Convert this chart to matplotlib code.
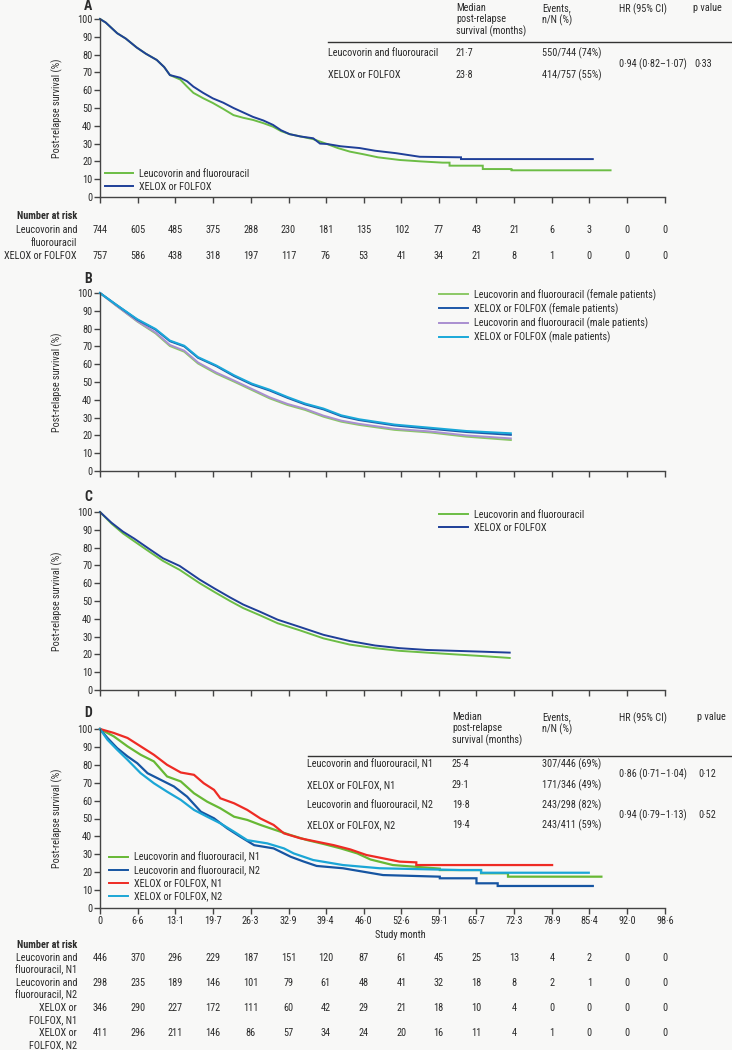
import matplotlib
matplotlib.use("Agg")
import matplotlib.pyplot as plt
from matplotlib.lines import Line2D
from matplotlib.transforms import blended_transform_factory

plt.rcParams['font.family'] = ['Roboto Condensed', 'Roboto', 'DejaVu Sans']
plt.rcParams['font.size'] = 7.4

W, H = 732, 1050
BG = "#f8f8f7"
TXT = "#2b2b2b"
FS = 7.4

# ── data ─────────────────────────────────────────────────────────────────
tick_months = [0, 6.6, 13.1, 19.7, 26.3, 32.9, 39.4, 46.0, 52.6, 59.1, 65.7, 72.3, 78.9, 85.4, 92.0, 98.6]
tick_labels = ["0", "6·6", "13·1", "19·7", "26·3", "32·9", "39·4", "46·0", "52·6", "59·1",
               "65·7", "72·3", "78·9", "85·4", "92·0", "98·6"]

# Panel A
a_lf_t = [0, 1, 2, 3, 4.5, 6.4, 8, 9.9, 11.2, 12.2, 14.0, 15.2, 16.3, 18, 19.7, 21.5, 23.3, 25, 26.7,
          28.5, 30.2, 31.6, 33.1, 35, 37.2, 39.6, 41.5, 43.6, 46, 48.5, 52.3, 56, 59.8, 61.0, 61.0,
          66.8, 66.8, 71.8, 71.8, 89.1]
a_lf_s = [100, 98, 95, 92, 89, 84, 80.5, 77, 73, 68.5, 66, 62, 58.5, 55.5, 52.8, 49.5, 46, 44.5, 43.3,
          41.5, 39.5, 37, 35.3, 34, 32.5, 29.8, 27.5, 25.5, 24, 22.3, 20.8, 20, 19.3, 19.3, 17.6,
          17.6, 15.7, 15.7, 15.0, 15.0]
a_xf_t = [0, 1, 2, 3, 4.5, 6.4, 8, 9.9, 11.2, 12.2, 14.0, 15.2, 16.3, 18, 19.7, 21.5, 23.3, 25, 26.7,
          28.5, 30.2, 31.6, 33.1, 35, 37.2, 38.4, 39.6, 42, 45.3, 48, 51.7, 55.8, 63, 63, 86]
a_xf_s = [100, 98, 95, 92, 89, 84, 80.5, 77, 73, 68.5, 67, 65, 62, 58.5, 55.4, 53, 50, 47.5, 45,
          43, 40.5, 37.5, 35.3, 34, 33, 30, 29.8, 28.5, 27.5, 26, 24.6, 22.6, 22.3, 21.3, 21.3]
a_risk_lf = [744, 605, 485, 375, 288, 230, 181, 135, 102, 77, 43, 21, 6, 3, 0, 0]
a_risk_xf = [757, 586, 438, 318, 197, 117, 76, 53, 41, 34, 21, 8, 1, 0, 0, 0]
a_groups = ["Leucovorin and fluorouracil", "XELOX or FOLFOX"]
a_median = ["21·7", "23·8"]
a_events = ["550/744 (74%)", "414/757 (55%)"]
a_hr = ["0·94 (0·82–1·07)"]
a_p = ["0·33"]

# Panel B
b_t = [0, 2.8, 6.5, 9.7, 12.2, 14.7, 17.1, 20.3, 23.4, 26.5, 29.6, 32.7, 35.8, 39.0, 42.1, 45.2,
       51.4, 57.7, 63.9, 71.7]
b_lf_f = [100, 93, 84, 77.3, 70.2, 67, 60.4, 54.7, 50.2, 45.5, 40.8, 37.1, 34.3, 30.5, 27.7, 25.9,
          23.1, 21.6, 19.3, 17.4]
b_xf_f = [100, 93.5, 85, 79.4, 72.9, 70, 63.6, 58.9, 53.3, 48.6, 45.2, 41.1, 37.4, 34.6, 30.8, 28.6,
          25.6, 23.7, 21.9, 20.3]
b_lf_m = [100, 93, 84.2, 77.8, 70.8, 67.6, 61, 55.3, 50.8, 46.1, 41.4, 37.7, 34.9, 31.1, 28.3, 26.5,
          23.7, 22.2, 20, 18.3]
b_xf_m = [100, 93.5, 85.3, 79.8, 73.3, 70.4, 64, 59.3, 53.8, 49.1, 45.7, 41.6, 37.9, 35.1, 31.3, 29.1,
          26.1, 24.3, 22.5, 21.2]
b_labels = ["Leucovorin and fluorouracil (female patients)", "XELOX or FOLFOX (female patients)",
            "Leucovorin and fluorouracil (male patients)", "XELOX or FOLFOX (male patients)"]

# Panel C
c_t = [0, 2, 4, 6, 8.7, 11, 13.9, 17.4, 20, 22.7, 25, 27.9, 31, 34.9, 39, 43.6, 48, 52.3, 57, 62, 67, 71.5]
c_xf = [100, 94, 89, 85, 79, 74, 69.7, 62, 57, 52, 48, 44, 39.5, 35.4, 31, 27.5, 25, 23.5, 22.5, 22, 21.5, 21]
c_lf = [100, 93.5, 88, 83.5, 77.5, 72.5, 67.5, 60, 55, 50, 46, 42, 37.5, 33.5, 29, 25.5, 23.5, 22, 21, 20, 19, 18]
c_labels = ["Leucovorin and fluorouracil", "XELOX or FOLFOX"]

# Panel D
d_lf1_t = [0, 2.4, 4.8, 7.1, 9.4, 11.7, 14.1, 16.4, 18.7, 21, 23.4, 25.7, 28, 30.3, 33.3, 36.2, 39.1,
           42, 44.9, 47.2, 51.1, 59.3, 59.3, 66.5, 66.5, 71.2, 71.2, 87.5]
d_lf1_s = [100, 95.9, 90.3, 85.6, 81.9, 73.5, 70.7, 64.1, 59.4, 55.7, 51, 49.2, 46.4, 43.9, 40.7, 37.9,
           35.7, 33.3, 30.5, 27.1, 24, 22, 21.2, 21.2, 19.4, 19.4, 17.5, 17.5]
d_lf2_t = [0, 1.3, 3, 4.8, 6.5, 8.3, 10.6, 12.9, 15.2, 17.6, 19.9, 22.2, 24.5, 26.9, 30.3, 33.3, 35.5,
           37.8, 42.4, 49.4, 59.3, 59.3, 65.7, 65.7, 69.4, 69.4, 86]
d_lf2_s = [100, 95, 89.3, 84.7, 80.9, 75.3, 71.6, 67.9, 62.2, 53.8, 50.1, 44.5, 39.8, 35.1, 33.3, 28.6,
           26, 23.5, 22.2, 18.4, 17.5, 16.6, 16.6, 13.8, 13.8, 12.3, 12.3]
d_xf1_t = [0, 2.4, 4.8, 7.1, 9.4, 11.7, 14.1, 16.4, 18.1, 19.9, 21, 23.4, 25.7, 28, 30.3, 32.1, 35,
           37.9, 40.8, 43.7, 46.5, 52.3, 55.2, 55.2, 78.9]
d_xf1_s = [100, 97.8, 95, 90.3, 85.6, 80, 75.7, 74.4, 69.7, 66, 61.3, 58.5, 54.8, 50, 46.4, 41.7, 38.9,
           37, 35.1, 32.7, 29.6, 25.9, 25.5, 24, 24]
d_xf2_t = [0, 1.3, 3, 4.8, 7.1, 9.4, 11.7, 14.1, 16.4, 18.7, 21, 23.4, 25.7, 29.2, 32.1, 33.8, 37.2,
           42.4, 48.8, 62.8, 66.5, 66.5, 85.3]
d_xf2_s = [100, 94, 88.4, 82.8, 75.3, 69.7, 65, 60.4, 54.8, 51, 47.3, 42.6, 37.9, 36.1, 33.3, 30.5,
           26.8, 24, 22.2, 21.2, 21.2, 19.7, 19.7]
d_labels = ["Leucovorin and fluorouracil, N1", "Leucovorin and fluorouracil, N2",
            "XELOX or FOLFOX, N1", "XELOX or FOLFOX, N2"]
d_risk = [[446, 370, 296, 229, 187, 151, 120, 87, 61, 45, 25, 13, 4, 2, 0, 0],
          [298, 235, 189, 146, 101, 79, 61, 48, 41, 32, 18, 8, 2, 1, 0, 0],
          [346, 290, 227, 172, 111, 60, 42, 29, 21, 18, 10, 4, 0, 0, 0, 0],
          [411, 296, 211, 146, 86, 57, 34, 24, 20, 16, 11, 4, 1, 0, 0, 0]]
d_risk_labels = [("Leucovorin and", "fluorouracil, N1"), ("Leucovorin and", "fluorouracil, N2"),
                 ("XELOX or", "FOLFOX, N1"), ("XELOX or", "FOLFOX, N2")]
d_groups = ["Leucovorin and fluorouracil, N1", "XELOX or FOLFOX, N1",
            "Leucovorin and fluorouracil, N2", "XELOX or FOLFOX, N2"]
d_median = ["25·4", "29·1", "19·8", "19·4"]
d_events = ["307/446 (69%)", "171/346 (49%)", "243/298 (82%)", "243/411 (59%)"]
d_hr = ["0·86 (0·71–1·04)", "0·94 (0·79–1·13)"]
d_p = ["0·12", "0·52"]

GREEN = "#6cbd45"
NAVY = "#1f3f98"

# ── helpers ─────────────────────────────────────────────────────────────
fig = plt.figure(figsize=(W / 100, H / 100), dpi=100, facecolor=BG)


def fx(px):
    return px / W


def fy(py):
    return 1 - py / H


def txt(x, y, s, **kw):
    kw.setdefault("color", TXT)
    kw.setdefault("va", "center")
    kw.setdefault("fontsize", FS)
    return fig.text(fx(x), fy(y), s, **kw)


def hline(x0, x1, y, lw=1.0):
    fig.add_artist(Line2D([fx(x0), fx(x1)], [fy(y), fy(y)], color="#333333", lw=lw))


def make_ax(top, bottom, letter, letter_y, xlabels=False):
    ax = fig.add_axes([fx(100), fy(bottom), fx(665) - fx(100), (bottom - top) / H])
    ax.set_facecolor("none")
    ax.set_xlim(0, 98.6)
    ax.set_ylim(0, 100)
    ax.set_xticks(tick_months)
    ax.set_xticklabels(tick_labels if xlabels else [])
    ax.set_yticks(range(0, 101, 10))
    for side in ("top", "right"):
        ax.spines[side].set_visible(False)
    for side in ("left", "bottom"):
        ax.spines[side].set_color("#444444")
        ax.spines[side].set_linewidth(1.0)
    ax.tick_params(axis="both", direction="out", length=4, width=1.0, color="#444444",
                   labelsize=FS, labelcolor=TXT, pad=1.5)
    ax.set_ylabel("Post-relapse survival (%)", fontsize=FS, color=TXT)
    ax.yaxis.set_label_coords(-0.066, 0.5)
    txt(88, letter_y, letter, fontsize=10, fontweight="bold", ha="center")
    return ax


def curve(ax, t, s, color, lw=1.4):
    ax.plot(t, s, color=color, lw=lw, clip_on=False, solid_joinstyle="miter")


def legend(ax, handles, labels, x, y, hlen):
    ax.legend(handles, labels, loc="upper left", bbox_to_anchor=(fx(x), fy(y)),
              bbox_transform=fig.transFigure, frameon=False, fontsize=FS, handlelength=hlen,
              handletextpad=0.6, labelspacing=0.25, borderpad=0, borderaxespad=0,
              labelcolor=TXT)


def risk_row(ax, values, y):
    tr = blended_transform_factory(ax.transData, fig.transFigure)
    for m, v in zip(tick_months, values):
        fig.text(m, fy(y), str(v), transform=tr, ha="center", va="center", color=TXT, fontsize=FS)


def ln(color):
    return Line2D([], [], color=color, lw=1.4)


# ── Panel A ─────────────────────────────────────────────────────────────
axA = make_ax(19, 197, "A", 6)
curve(axA, a_lf_t, a_lf_s, GREEN)
curve(axA, a_xf_t, a_xf_s, NAVY)
legend(axA, [ln(GREEN), ln(NAVY)], a_groups, 105, 169, 2.7)

txt(456, 3, "Median\npost-relapse\nsurvival (months)", va="top", linespacing=1.15)
txt(542, 3, "Events,\nn/N (%)", va="top", linespacing=1.15)
txt(619, 3, "HR (95% CI)", va="top")
txt(693, 3, "p value", va="top")
hline(328, 732, 42)
for i, y in enumerate([53, 75]):
    txt(328, y, a_groups[i])
    txt(456, y, a_median[i])
    txt(542, y, a_events[i])
txt(619, 64, a_hr[0])
txt(694, 64, a_p[0])

txt(77, 216, "Number at risk", ha="right", fontweight="bold")
txt(77, 230, "Leucovorin and", ha="right")
txt(77, 243, "fluorouracil", ha="right")
txt(77, 256, "XELOX or FOLFOX", ha="right")
risk_row(axA, a_risk_lf, 230)
risk_row(axA, a_risk_xf, 256)

# ── Panel B ─────────────────────────────────────────────────────────────
axB = make_ax(293, 471, "B", 279)
b_cols = ["#8cc866", "#1d57a8", "#a98fd0", "#1aa8d9"]
for s, c in zip([b_lf_f, b_lf_m, b_xf_f, b_xf_m], [b_cols[0], b_cols[2], b_cols[1], b_cols[3]]):
    curve(axB, b_t, s, c)
legend(axB, [ln(c) for c in b_cols], b_labels, 439, 289, 2.8)

# ── Panel C ─────────────────────────────────────────────────────────────
axC = make_ax(512, 690, "C", 497)
curve(axC, c_t, c_lf, GREEN)
curve(axC, c_t, c_xf, NAVY)
legend(axC, [ln(GREEN), ln(NAVY)], c_labels, 439, 510, 2.8)

# ── Panel D ─────────────────────────────────────────────────────────────
axD = make_ax(729, 908, "D", 713, xlabels=True)
d_cols = ["#67b834", "#1655a2", "#ee2b24", "#1ba6d6"]
curve(axD, d_lf1_t, d_lf1_s, d_cols[0], lw=1.6)
curve(axD, d_lf2_t, d_lf2_s, d_cols[1], lw=1.6)
curve(axD, d_xf1_t, d_xf1_s, d_cols[2], lw=1.6)
curve(axD, d_xf2_t, d_xf2_s, d_cols[3], lw=1.6)
legend(axD, [ln(c) for c in d_cols], d_labels, 109, 852, 1.8)
txt(400, 935, "Study month", ha="center")

txt(452, 712, "Median\npost-relapse\nsurvival (months)", va="top", linespacing=1.15)
txt(542, 712, "Events,\nn/N (%)", va="top", linespacing=1.15)
txt(619, 712, "HR (95% CI)", va="top")
txt(697, 712, "p value", va="top")
hline(308, 732, 756)
for i, y in enumerate([764, 785, 805, 825]):
    txt(307, y, d_groups[i])
    txt(452, y, d_median[i])
    txt(542, y, d_events[i])
for j, y in enumerate([774, 815]):
    txt(619, y, d_hr[j])
    txt(698, y, d_p[j])

txt(77, 945, "Number at risk", ha="right", fontweight="bold")
for k, y in enumerate([958, 983, 1008, 1033]):
    txt(77, y, d_risk_labels[k][0], ha="right")
    txt(77, y + 12, d_risk_labels[k][1], ha="right")
    risk_row(axD, d_risk[k], y)

fig.savefig("out.png", dpi=100, facecolor=BG)
